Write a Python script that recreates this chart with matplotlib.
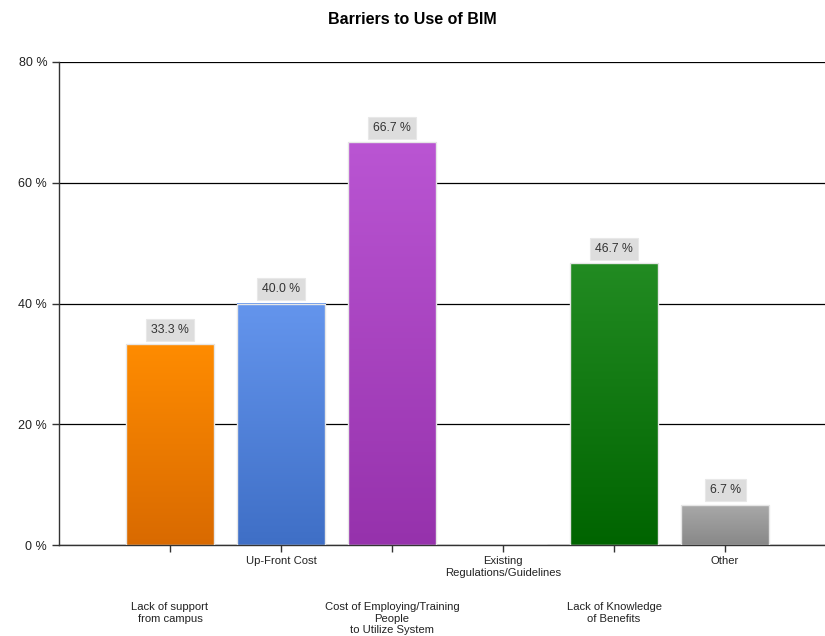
import numpy as np
import matplotlib
matplotlib.use("Agg")
import matplotlib.pyplot as plt
from matplotlib.colors import LinearSegmentedColormap

categories = [
    "Lack of support\nfrom campus",
    "Up-Front Cost",
    "Cost of Employing/Training\nPeople\nto Utilize System",
    "Existing\nRegulations/Guidelines",
    "Lack of Knowledge\nof Benefits",
    "Other",
]
values = [33.3, 40.0, 66.7, 0.0, 46.7, 6.7]
top_colors = ["#FF8C00", "#6495ED", "#BA55D3", "#FFFFFF", "#228B22", "#A9A9A9"]
bottom_colors = ["#D96A00", "#3F6FC6", "#9632AC", "#FFFFFF", "#006400", "#888888"]
yticks = [0, 20, 40, 60, 80]

plt.rcParams["font.family"] = ["Liberation Sans", "DejaVu Sans"]

fig = plt.figure(figsize=(8.25, 6.36), dpi=100)
ax = fig.add_axes([59 / 825, 1 - 545 / 636, (825 - 59) / 825, (545 - 62) / 636])

x = np.arange(len(categories))
bars = ax.bar(x, values, width=0.8, color="none", edgecolor="#E6E6E6", linewidth=1.0, zorder=3)

grad = np.linspace(0, 1, 256).reshape(-1, 1)
for bar, c_top, c_bot, v in zip(bars, top_colors, bottom_colors, values):
    if v <= 0:
        continue
    x0 = bar.get_x()
    x1 = x0 + bar.get_width()
    cmap = LinearSegmentedColormap.from_list("g", [c_bot, c_top])
    im = ax.imshow(grad, cmap=cmap, extent=(x0, x1, 0, v), origin="lower",
                   aspect="auto", zorder=2, interpolation="bicubic")
    im.set_clip_path(bar)
    ax.annotate(f"{v:.1f} %", (bar.get_x() + bar.get_width() / 2, v),
                xytext=(0, 6), textcoords="offset points", ha="center", va="bottom",
                fontsize=8.8, color="#333333",
                bbox=dict(boxstyle="square,pad=0.4", fc="#DDDDDD", ec="#E8E8E8", lw=0.8),
                zorder=4)

ax.set_xlim(-1, 5.9)
ax.set_ylim(0, 80)
ax.set_yticks(yticks)
ax.set_yticklabels([f"{t} %" for t in yticks], fontsize=9, color="#222222")
ax.yaxis.grid(True, color="black", linewidth=0.9, zorder=1)
ax.set_axisbelow(True)

ax.set_xticks(x)
ax.set_xticklabels([])
for i, lab in enumerate(categories):
    offset = -8 if i % 2 == 1 else -41
    ax.annotate(lab, (i, 0), xytext=(0, offset), textcoords="offset points",
                ha="center", va="top", fontsize=8.1, color="#222222",
                annotation_clip=False, linespacing=1.2)

for s in ["top", "right"]:
    ax.spines[s].set_visible(False)
for s in ["left", "bottom"]:
    ax.spines[s].set_color("#333333")
    ax.spines[s].set_linewidth(1.0)
ax.tick_params(axis="both", length=5, color="#333333", width=1.0)

fig.text(0.5, 1 - 20 / 636, "Barriers to Use of BIM", ha="center", va="center",
         fontsize=11.5, fontweight="bold")

fig.savefig("out.png", dpi=100)
